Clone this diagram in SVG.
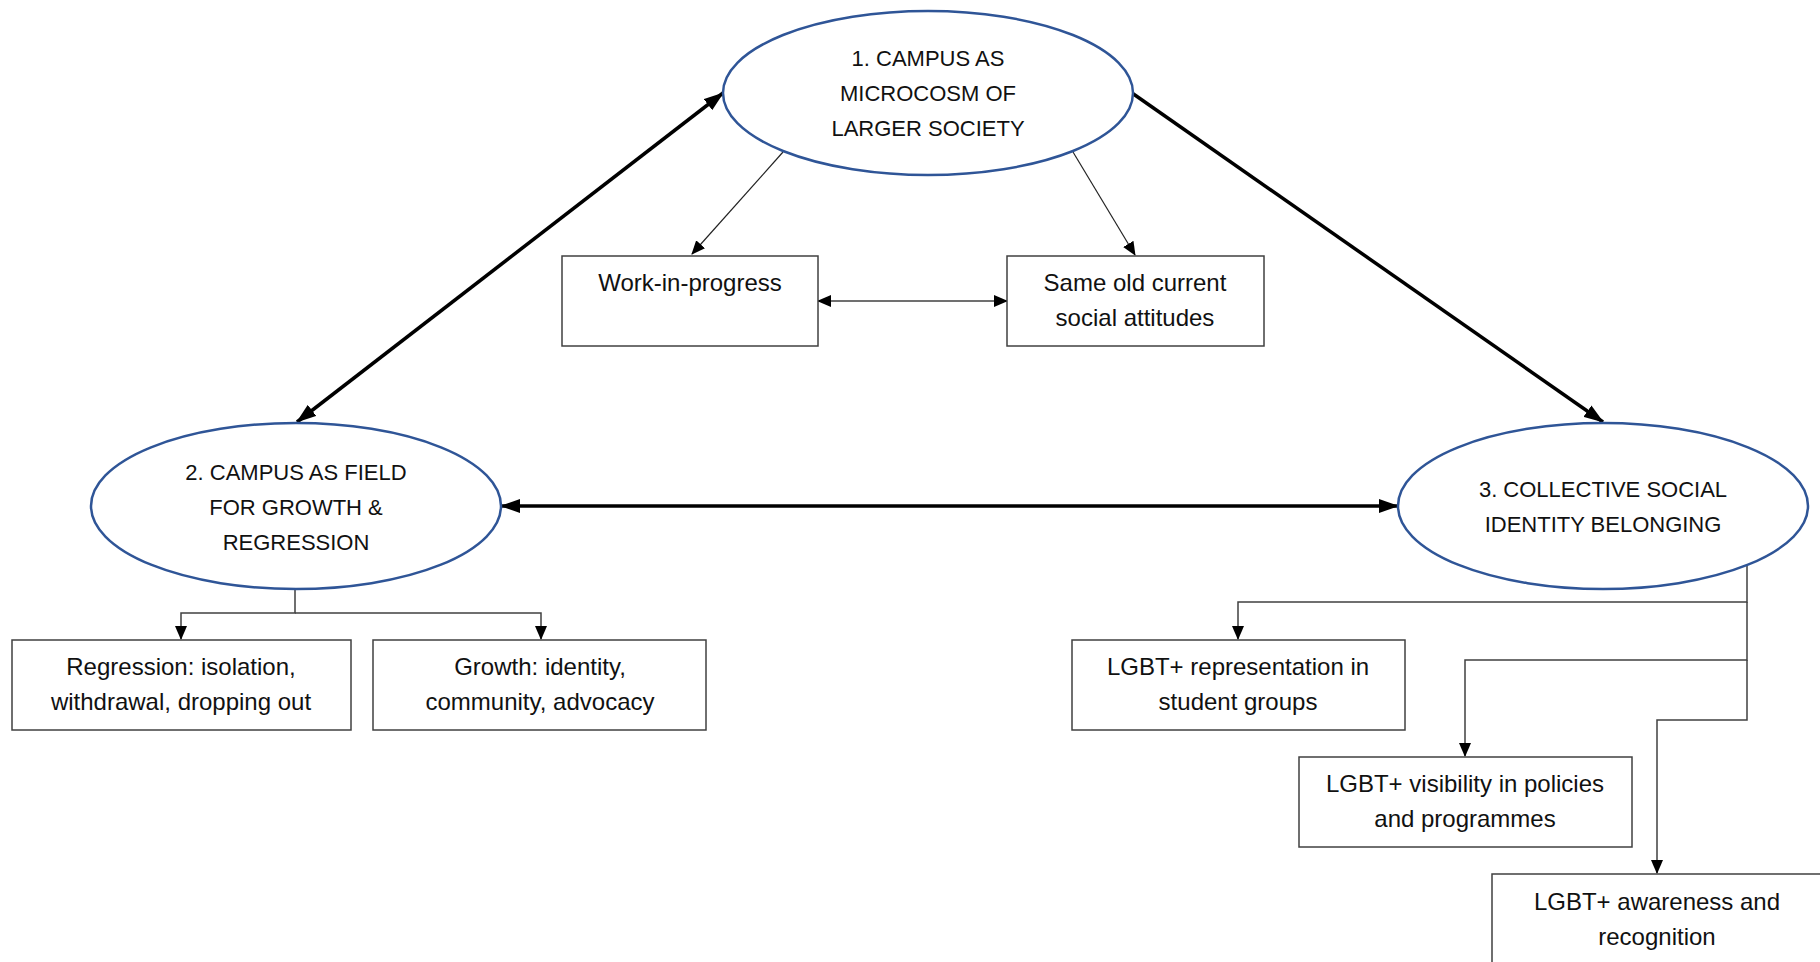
<svg xmlns="http://www.w3.org/2000/svg" width="1820" height="962" viewBox="0 0 1820 962">
<style>
.ell{fill:#fff;stroke:#2F5597;stroke-width:2.5}
.box{fill:#fff;stroke:#404040;stroke-width:1.5}
.t{font-family:"Liberation Sans",Arial,sans-serif;font-size:22px;fill:#111;text-anchor:middle}
.b{font-size:24px}
.thick{fill:none;stroke:#000;stroke-width:3.5}
.thin{fill:none;stroke:#222;stroke-width:1.2}
.orth{fill:none;stroke:#404040;stroke-width:1.5}
</style>
<defs>
<marker id="ah" markerUnits="userSpaceOnUse" markerWidth="20" markerHeight="14" refX="19" refY="7" orient="auto-start-reverse"><path d="M0,0 L20,7 L0,14 z" fill="#000"/></marker>
<marker id="as" markerUnits="userSpaceOnUse" markerWidth="14" markerHeight="12" refX="13" refY="6" orient="auto-start-reverse"><path d="M0,0 L14,6 L0,12 z" fill="#000"/></marker>
</defs>
<rect width="1820" height="962" fill="#fff"/>
<g id="connectors">
<line class="thick" x1="723" y1="93" x2="297" y2="422" marker-start="url(#ah)" marker-end="url(#ah)"/>
<line class="thick" x1="1132" y1="93" x2="1603" y2="422" marker-end="url(#ah)"/>
<line class="thick" x1="501" y1="506" x2="1398" y2="506" marker-start="url(#ah)" marker-end="url(#ah)"/>
<line class="thin" x1="783" y1="152" x2="692" y2="254" marker-end="url(#as)"/>
<line class="thin" x1="1073" y1="152" x2="1135" y2="255" marker-end="url(#as)"/>
<line class="orth" x1="818" y1="301" x2="1007" y2="301" marker-start="url(#as)" marker-end="url(#as)"/>
<polyline class="orth" points="295,590 295,613 181,613 181,639" marker-end="url(#as)"/>
<polyline class="orth" points="295,613 541,613 541,639" marker-end="url(#as)"/>
<polyline class="orth" points="1747,565 1747,602 1238,602 1238,639" marker-end="url(#as)"/>
<polyline class="orth" points="1747,602 1747,660 1465,660 1465,756" marker-end="url(#as)"/>
<polyline class="orth" points="1747,660 1747,720 1657,720 1657,873" marker-end="url(#as)"/>
</g>
<g id="n1"><ellipse class="ell" cx="928" cy="93" rx="205" ry="82"/>
<text class="t" x="928" y="66">1. CAMPUS AS</text><text class="t" x="928" y="101">MICROCOSM OF</text><text class="t" x="928" y="136">LARGER SOCIETY</text></g>
<g id="n2"><ellipse class="ell" cx="296" cy="506" rx="205" ry="83"/>
<text class="t" x="296" y="480">2. CAMPUS AS FIELD</text><text class="t" x="296" y="515">FOR GROWTH &amp;</text><text class="t" x="296" y="550">REGRESSION</text></g>
<g id="n3"><ellipse class="ell" cx="1603" cy="506" rx="205" ry="83"/>
<text class="t" x="1603" y="497">3. COLLECTIVE SOCIAL</text><text class="t" x="1603" y="532">IDENTITY BELONGING</text></g>
<g id="b1"><rect class="box" x="562" y="256" width="256" height="90"/>
<text class="t b" x="690" y="291">Work-in-progress</text></g>
<g id="b2"><rect class="box" x="1007" y="256" width="257" height="90"/>
<text class="t b" x="1135" y="291">Same old current</text><text class="t b" x="1135" y="326">social attitudes</text></g>
<g id="b3"><rect class="box" x="12" y="640" width="339" height="90"/>
<text class="t b" x="181" y="675">Regression: isolation,</text><text class="t b" x="181" y="710">withdrawal, dropping out</text></g>
<g id="b4"><rect class="box" x="373" y="640" width="333" height="90"/>
<text class="t b" x="540" y="675">Growth: identity,</text><text class="t b" x="540" y="710">community, advocacy</text></g>
<g id="b5"><rect class="box" x="1072" y="640" width="333" height="90"/>
<text class="t b" x="1238" y="675">LGBT+ representation in</text><text class="t b" x="1238" y="710">student groups</text></g>
<g id="b6"><rect class="box" x="1299" y="757" width="333" height="90"/>
<text class="t b" x="1465" y="792">LGBT+ visibility in policies</text><text class="t b" x="1465" y="827">and programmes</text></g>
<g id="b7"><rect class="box" x="1492" y="874" width="334" height="100"/>
<text class="t b" x="1657" y="910">LGBT+ awareness and</text><text class="t b" x="1657" y="945">recognition</text></g>
</svg>
